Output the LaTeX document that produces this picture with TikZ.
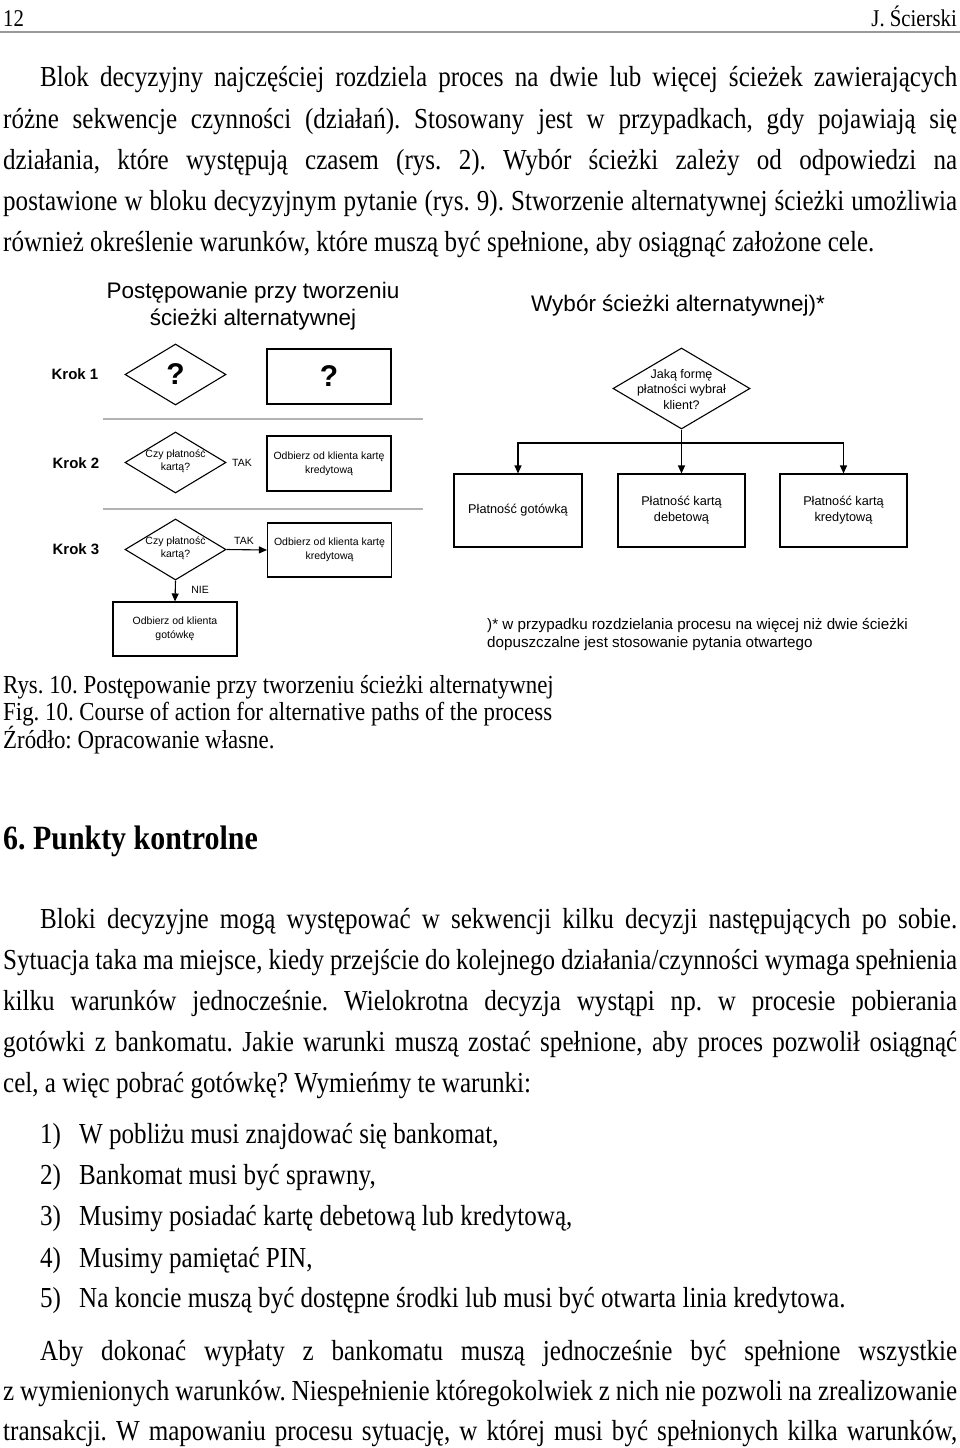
\documentclass[tikz,border=0pt]{standalone}
\usepackage{fontspec}
\usetikzlibrary{shapes.geometric,arrows.meta}
\newfontfamily\bodyfont[FakeStretch=0.865]{Liberation Serif}
\newfontfamily\capfont[FakeStretch=0.88]{Liberation Serif}
\newfontfamily\arial{Liberation Sans}
\begin{document}
\frenchspacing
\begin{tikzpicture}[x=1pt,y=-1pt,
  txt/.style={inner sep=0pt,anchor=base west,font=\bodyfont\frenchspacing\fontsize{29}{34}\selectfont},
  hdr/.style={inner sep=0pt,font=\bodyfont\frenchspacing\fontsize{24}{28}\selectfont},
  captxt/.style={inner sep=0pt,anchor=base west,font=\capfont\frenchspacing\fontsize{26}{28}\selectfont},
  headtxt/.style={inner sep=0pt,anchor=base west,font=\capfont\bfseries\frenchspacing\fontsize{34}{38}\selectfont},
  dtitle/.style={inner sep=0pt,align=center,font=\arial\fontsize{22.5}{27}\selectfont},
  kroklbl/.style={inner sep=0pt,font=\arial\bfseries\fontsize{15}{18}\selectfont},
  dia/.style={draw,line width=1.1pt,diamond,inner sep=0pt,minimum width=101pt,minimum height=61pt},
  rbox/.style={draw,line width=1.1pt,rectangle,inner sep=0pt,align=center,minimum width=124pt,minimum height=55pt,font=\arial\fontsize{10.5}{14}\selectfont},
  pbox/.style={draw,line width=1.1pt,rectangle,inner sep=0pt,align=center,minimum width=127pt,minimum height=73pt,font=\arial\fontsize{12.7}{16}\selectfont},
  small/.style={inner sep=0pt,align=center,font=\arial\fontsize{10.5}{13}\selectfont},
  qmark/.style={inner sep=0pt,font=\arial\bfseries\fontsize{30}{30}\selectfont},
  sepline/.style={draw=black!30,line width=1.2pt},
  arr/.style={line width=1.1pt,-{Triangle[length=8pt,width=7pt]}},
  plain/.style={line width=1.1pt},
  foot/.style={inner sep=0pt,anchor=base west,font=\arial\fontsize{15.2}{18}\selectfont}
]
\useasboundingbox[fill=white] (0,0) rectangle (960,1448);

% header
\node[hdr,anchor=base west] (pg) at (3,26) {12};
\node[hdr,anchor=base east] (au) at (957,26) {J. Ścierski};
\draw[draw=black!40,line width=2pt] (0,32) -- (960,32);

% paragraph 1
\node[txt] (p1a) at (40,86) {\makebox[917pt][s]{Blok decyzyjny najczęściej rozdziela proces na dwie lub więcej ścieżek zawierających}};
\node[txt] (p1b) at (3,128) {\makebox[954pt][s]{różne sekwencje czynności (działań). Stosowany jest w przypadkach, gdy pojawiają się}};
\node[txt] (p1c) at (3,169) {\makebox[954pt][s]{działania, które występują czasem (rys. 2). Wybór ścieżki zależy od odpowiedzi na}};
\node[txt] (p1d) at (3,210) {\makebox[954pt][s]{postawione w bloku decyzyjnym pytanie (rys. 9). Stworzenie alternatywnej ścieżki umożliwia}};
\node[txt] (p1e) at (3,251) {również określenie warunków, które muszą być spełnione, aby osiągnąć założone cele.};

% diagram titles
\node[dtitle] (t1) at (253,306) {Postępowanie przy tworzeniu\\ścieżki alternatywnej};
\node[dtitle] (t2) at (678,306) {Wybór ścieżki alternatywnej)*};

% Krok labels
\node[kroklbl] (k1) at (75,374) {Krok 1};
\node[kroklbl] (k2) at (76,463) {Krok 2};
\node[kroklbl] (k3) at (76,549) {Krok 3};

% Krok 1
\node[dia] (d1) at (175.5,374.5) {};
\node[qmark] (q1) at (d1) {?};
\node[rbox,font=\arial\bfseries\fontsize{30}{30}\selectfont] (r1) at (329,376.5) {?};
\coordinate (s1a) at (103,419); \coordinate (s1b) at (423,419);
\draw[sepline] (s1a) -- (s1b);

% Krok 2
\node[dia] (d2) at (175.5,462.5) {};
\node[small] (d2t) at (175.5,461) {Czy płatność\\kartą?};
\node[small] (tak2) at (242,463) {TAK};
\node[rbox] (r2) at (329,463.5) {Odbierz od klienta kartę\\kredytową};
\coordinate (s2a) at (103,509); \coordinate (s2b) at (423,509);
\draw[sepline] (s2a) -- (s2b);

% Krok 3
\node[dia] (d3) at (175.5,549.5) {};
\node[small] (d3t) at (175.5,548) {Czy płatność\\kartą?};
\node[rbox,minimum height=54pt] (r3) at (329.5,550) {Odbierz od klienta kartę\\kredytową};
\node[rbox,minimum height=54pt] (r4) at (175,629) {Odbierz od klienta\\gotówkę};
\draw[arr] (d3.east) -- (r3.west);
\draw[arr] (d3.south) -- (r4.north);
\node[small] (tak3) at (244,541) {TAK};
\node[small] (nie3) at (200,590) {NIE};

% right: choice
\node[draw,line width=1.1pt,diamond,inner sep=0pt,minimum width=137pt,minimum height=81pt] (dj) at (681.5,388.5) {};
\node[inner sep=0pt,align=center,font=\arial\fontsize{12.5}{15.5}\selectfont] (djt) at (681.5,389.5) {Jaką formę\\płatności wybrał\\klient?};
\node[pbox,minimum width=128pt] (b1) at (518,510.5) {Płatność gotówką};
\node[pbox] (b2) at (681.5,510.5) {Płatność kartą\\debetową};
\node[pbox] (b3) at (843.5,510.5) {Płatność kartą\\kredytową};
\coordinate (jn) at (681.5,443);
\draw[plain] (dj.south) -- (jn);
\draw[arr] (jn) -| (b1.north);
\draw[arr] (jn) -| (b3.north);
\draw[arr] (jn) -- (b2.north);

% footnote
\node[foot] (f1) at (487,629) {)* w przypadku rozdzielania procesu na więcej niż dwie ścieżki};
\node[foot] (f2) at (487,647) {dopuszczalne jest stosowanie pytania otwartego};

% caption
\node[captxt] (c1) at (3,693) {Rys. 10. Postępowanie przy tworzeniu ścieżki alternatywnej};
\node[captxt] (c2) at (3,720) {Fig. 10. Course of action for alternative paths of the process};
\node[captxt] (c3) at (3,748) {Źródło: Opracowanie własne.};

% heading
\node[headtxt] (h6) at (3,849) {6. Punkty kontrolne};

% paragraph 2
\node[txt] (p2a) at (40,928) {\makebox[917pt][s]{Bloki decyzyjne mogą występować w sekwencji kilku decyzji następujących po sobie.}};
\node[txt] (p2b) at (3,969) {\makebox[954pt][s]{Sytuacja taka ma miejsce, kiedy przejście do kolejnego działania/czynności wymaga spełnienia}};
\node[txt] (p2c) at (3,1010) {\makebox[954pt][s]{kilku warunków jednocześnie. Wielokrotna decyzja wystąpi np. w procesie pobierania}};
\node[txt] (p2d) at (3,1051) {\makebox[954pt][s]{gotówki z bankomatu. Jakie warunki muszą zostać spełnione, aby proces pozwolił osiągnąć}};
\node[txt] (p2e) at (3,1092) {cel, a więc pobrać gotówkę? Wymieńmy te warunki:};

% list
\node[txt] (n1) at (40,1143) {1)};
\node[txt] (l1) at (79,1143) {W pobliżu musi znajdować się bankomat,};
\node[txt] (n2) at (40,1184) {2)};
\node[txt] (l2) at (79,1184) {Bankomat musi być sprawny,};
\node[txt] (n3) at (40,1225) {3)};
\node[txt] (l3) at (79,1225) {Musimy posiadać kartę debetową lub kredytową,};
\node[txt] (n4) at (40,1267) {4)};
\node[txt] (l4) at (79,1267) {Musimy pamiętać PIN,};
\node[txt] (n5) at (40,1307) {5)};
\node[txt] (l5) at (79,1307) {Na koncie muszą być dostępne środki lub musi być otwarta linia kredytowa.};

% paragraph 3
\node[txt] (p3a) at (40,1360) {\makebox[917pt][s]{Aby dokonać wypłaty z bankomatu muszą jednocześnie być spełnione wszystkie}};
\node[txt] (p3b) at (3,1400) {\makebox[954pt][s]{z wymienionych warunków. Niespełnienie któregokolwiek z nich nie pozwoli na zrealizowanie}};
\node[txt] (p3c) at (3,1440) {\makebox[954pt][s]{transakcji. W mapowaniu procesu sytuację, w której musi być spełnionych kilka warunków,}};
\end{tikzpicture}
\end{document}
